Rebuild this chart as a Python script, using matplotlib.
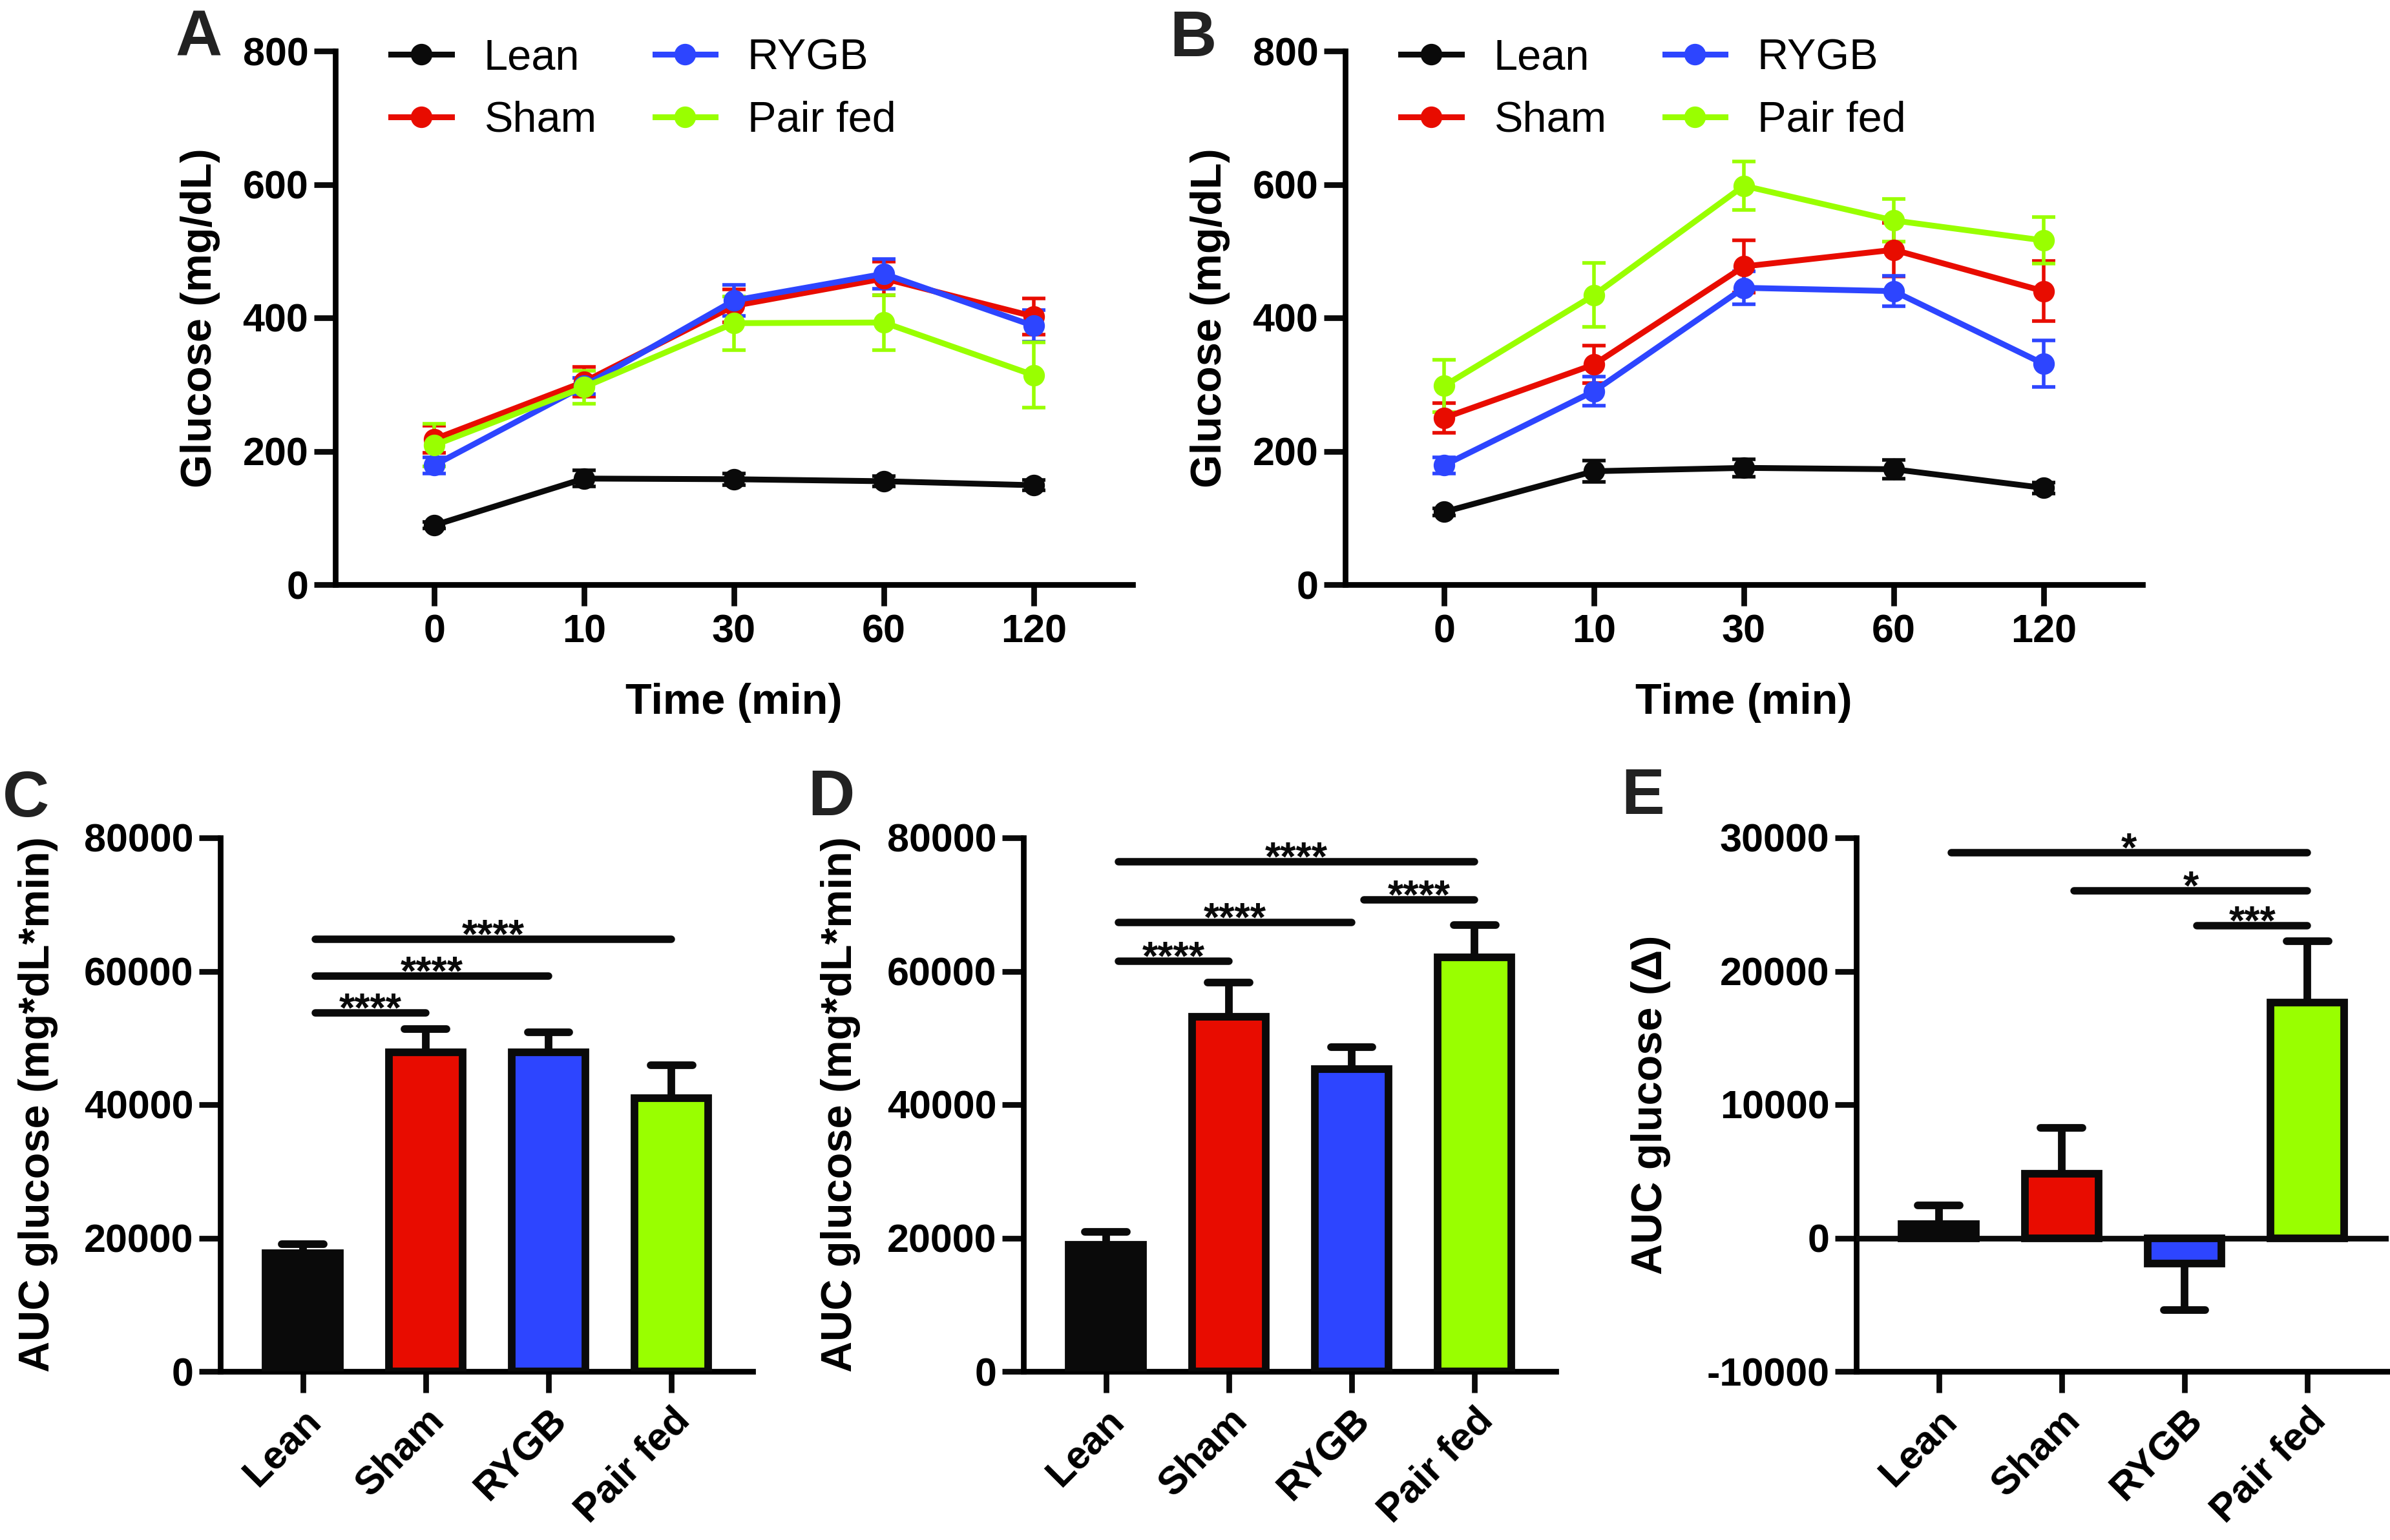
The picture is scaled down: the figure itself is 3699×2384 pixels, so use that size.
import numpy as np
import matplotlib
matplotlib.use('Agg')
import matplotlib.pyplot as plt

plt.rcParams['font.family'] = ['Liberation Sans', 'DejaVu Sans']
plt.rcParams['axes.unicode_minus'] = False

groups = ['Lean', 'Sham', 'RYGB', 'Pair fed']
colors = ['#0a0a0a', '#e80c00', '#2d45ff', '#99ff00']
time_labels = ['0', '10', '30', '60', '120']

# A - glucose curves (mean, sem)
a_lean = [89, 159, 158, 155, 149]
a_lean_err = [5, 12, 9, 8, 8]
a_sham = [218, 304, 418, 459, 402]
a_sham_err = [20, 22, 25, 25, 27]
a_rygb = [179, 298, 426, 466, 388]
a_rygb_err = [12, 12, 23, 22, 24]
a_pair = [209, 296, 392, 393, 314]
a_pair_err = [32, 25, 40, 41, 49]

# B - glucose curves
b_lean = [109, 170, 175, 173, 145]
b_lean_err = [5, 16, 13, 14, 8]
b_sham = [250, 330, 477, 502, 440]
b_sham_err = [22, 28, 39, 40, 45]
b_rygb = [179, 290, 445, 440, 331]
b_rygb_err = [12, 22, 25, 23, 35]
b_pair = [298, 434, 598, 546, 516]
b_pair_err = [39, 48, 36, 32, 35]

# C, D, E - AUC bars
c_auc = [17700, 47800, 47850, 40950]
c_err = [1350, 3500, 3000, 5000]
d_auc = [19000, 53140, 45290, 62130]
d_err = [1960, 5150, 3330, 4770]
e_auc = [1050, 4830, -1900, 17650]
e_err = [1400, 3430, 3500, 4580]

# significance brackets
c_pairs = [(0, 1), (0, 2), (0, 3)]
c_pair_y = [53750, 59270, 64790]
c_stars = ['****', '****', '****']
d_pairs = [(0, 1), (0, 2), (2, 3), (0, 3)]
d_pair_y = [61520, 67310, 70660, 76450]
d_stars = ['****', '****', '****', '****']
e_pairs = [(0, 3), (1, 3), (2, 3)]
e_pair_y = [28880, 26020, 23410]
e_stars = ['*', '*', '***']

W, H = 3699, 2384
fig = plt.figure(figsize=(W / 100, H / 100), dpi=100)


def px_axes(left, top, right, bottom):
    return fig.add_axes([left / W, 1 - bottom / H, (right - left) / W, (bottom - top) / H])


def style(ax):
    ax.spines['top'].set_visible(False)
    ax.spines['right'].set_visible(False)
    ax.spines['left'].set_linewidth(6.3)
    ax.spines['bottom'].set_linewidth(6.3)
    ax.tick_params(width=6.3, length=24, labelsize=44, color='#0a0a0a')
    ax.tick_params(axis='y', pad=6)


def line_panel(ax, series, errs):
    x = np.arange(len(time_labels))
    for name, y, e, c in zip(groups, series, errs, colors):
        ax.errorbar(x, y, yerr=e, fmt='none', ecolor=c, elinewidth=4,
                    capsize=13, capthick=4, zorder=2)
        ax.plot(x, y, '-o', color=c, lw=6.5, ms=23, label=name, zorder=3)
    style(ax)
    ax.set_xlim(-0.66, 4.66)
    ax.set_ylim(0, 800)
    ax.set_xticks(x)
    ax.set_xticklabels(time_labels, fontweight='bold')
    ax.set_yticks([0, 200, 400, 600, 800])
    ax.set_yticklabels(['0', '200', '400', '600', '800'], fontweight='bold')
    ax.tick_params(axis='x', pad=9)
    ax.set_xlabel('Time (min)', fontsize=48, fontweight='bold')
    ax.xaxis.set_label_coords(0.5, -0.184)
    ax.set_ylabel('Glucose (mg/dL)', fontsize=48, fontweight='bold')
    ax.yaxis.set_label_coords(-0.144, 0.5)
    ax.legend(ncol=2, loc='upper left', bbox_to_anchor=(0.07, 1.024),
              frameon=False, fontsize=48, handlelength=1.4, handletextpad=0.75,
              columnspacing=1.36, labelspacing=0.52, borderpad=0, borderaxespad=0)


def bar_panel(ax, vals, errs, pairs, pair_y, stars, ylim, yticks, ylabel, label_x):
    x = np.arange(len(groups))
    vals = np.array(vals)
    errs = np.array(errs)
    ax.bar(x, vals, width=0.6, color=colors, edgecolor='#0a0a0a', linewidth=8.5, zorder=3)
    ends = vals + np.sign(vals) * errs
    ax.vlines(x, vals, ends, color='#0a0a0a', lw=8.5, zorder=2)
    ax.hlines(ends, x - 0.17, x + 0.17, color='#0a0a0a', lw=8.5, zorder=2,
              capstyle='round')
    for (i, j), yv, s in zip(pairs, pair_y, stars):
        ax.plot([i + 0.1, j], [yv, yv], color='#0a0a0a', lw=8.3,
                solid_capstyle='round', zorder=4)
        ax.annotate(s, xy=((i + 0.1 + j) / 2, yv), xytext=(0, -9),
                    textcoords='offset points', ha='center', va='baseline',
                    fontsize=45, fontweight='bold', color='#0a0a0a')
    style(ax)
    ax.set_xlim(-0.67, 3.66)
    ax.set_ylim(*ylim)
    ax.set_xticks(x)
    ax.set_xticklabels(groups, rotation=45, ha='right', va='top',
                       rotation_mode='anchor', fontweight='bold')
    ax.tick_params(axis='x', pad=10)
    ax.set_yticks(yticks)
    ax.set_yticklabels([str(v) for v in yticks], fontweight='bold')
    ax.set_ylabel(ylabel, fontsize=48, fontweight='bold')
    ax.yaxis.set_label_coords(label_x, 0.5)


axA = px_axes(519, 79, 1753, 905)
axB = px_axes(2082, 79, 3316, 905)
axC = px_axes(341, 1297, 1165, 2123)
axD = px_axes(1584, 1297, 2408, 2123)
axE = px_axes(2873, 1297, 3697, 2123)

line_panel(axA, [a_lean, a_sham, a_rygb, a_pair],
           [a_lean_err, a_sham_err, a_rygb_err, a_pair_err])
line_panel(axB, [b_lean, b_sham, b_rygb, b_pair],
           [b_lean_err, b_sham_err, b_rygb_err, b_pair_err])

bar_panel(axC, c_auc, c_err, c_pairs, c_pair_y, c_stars, (0, 80000),
          [0, 20000, 40000, 60000, 80000], 'AUC glucose (mg*dL*min)', -0.305)
bar_panel(axD, d_auc, d_err, d_pairs, d_pair_y, d_stars, (0, 80000),
          [0, 20000, 40000, 60000, 80000], 'AUC glucose (mg*dL*min)', -0.306)
bar_panel(axE, e_auc, e_err, e_pairs, e_pair_y, e_stars, (-10000, 30000),
          [-10000, 0, 10000, 20000, 30000], 'AUC glucose (\u0394)', -0.348)
axE.axhline(0, color='#0a0a0a', lw=6.3, zorder=5)

# panel letters
for lx, ly, s in [(272, 87, 'A'), (1810, 87, 'B'), (4, 1264, 'C'),
                  (1250, 1262, 'D'), (2509, 1260, 'E')]:
    fig.text(lx / W, 1 - ly / H, s, fontsize=72, fontweight='bold',
             va='baseline', ha='left', color='#222222')

fig.savefig('out.png', dpi=100)
